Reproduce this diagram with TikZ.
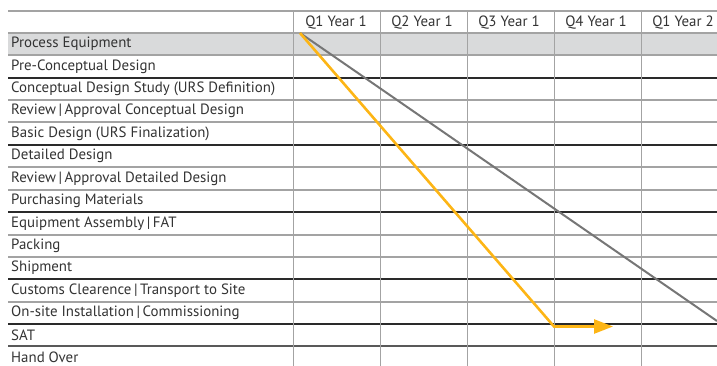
\documentclass[tikz,border=0pt]{standalone}
\usepackage{fontspec}
\setmainfont{PT Sans}
\usetikzlibrary{arrows.meta}
\definecolor{gridgrey}{HTML}{A3A3A3}
\definecolor{griddark}{HTML}{2A2A2A}
\definecolor{rowfill}{HTML}{D9DADB}
\definecolor{txtgrey}{HTML}{333333}
\definecolor{diaggrey}{HTML}{767676}
\definecolor{ayellow}{HTML}{FDB515}
\tikzset{
  rowlabel/.style={anchor=west, inner sep=0pt, font=\fontsize{14.9}{16}\selectfont, text=txtgrey},
  headlabel/.style={anchor=center, inner sep=0pt, font=\fontsize{14.9}{16}\selectfont, text=txtgrey},
  gridline/.style={draw=gridgrey, line width=1.1pt},
  darkline/.style={draw=griddark, line width=1.1pt},
  greyarrow/.style={draw=diaggrey, line width=2pt},
  yellowarrow/.style={draw=ayellow, line width=2.6pt, line join=miter},
}
\begin{document}
\begin{tikzpicture}[x=1pt,y=-1pt]
\useasboundingbox (0,0) rectangle (717,366);
% grey row
\fill[rowfill] (8,33) rectangle (717,55);
% horizontal lines
\foreach \yy in {11,33,55,100,122,167,190,235,257,302}
  \draw[gridline] (8,\yy) -- (717,\yy);
\foreach \yy in {78,145,212,279,324}
  \draw[darkline] (8,\yy) -- (717,\yy);
\draw[draw=black!65, line width=1.1pt] (8,346) -- (717,346);
% vertical lines
\foreach \xx in {293.5,380.5,467.5,554.5,641.5}
  \draw[gridline] (\xx,11) -- (\xx,366);
% headers
\node[headlabel] (h1) at (336,22.5) {Q1 Year 1};
\node[headlabel] (h2) at (422,22.5) {Q2 Year 1};
\node[headlabel] (h3) at (509,22.5) {Q3 Year 1};
\node[headlabel] (h4) at (596,22.5) {Q4 Year 1};
\node[headlabel] (h5) at (683,22.5) {Q1 Year 2};
% row labels
\node[rowlabel] (r1) at (11,44) {Process Equipment};
\node[rowlabel] (r2) at (11,66.5) {Pre-Conceptual Design};
\node[rowlabel] (r3) at (11,89) {Conceptual Design Study (URS Definition)};
\node[rowlabel] (r4) at (11,111) {Review\,|\,Approval Conceptual Design};
\node[rowlabel] (r5) at (11,133.5) {Basic Design (URS Finalization)};
\node[rowlabel] (r6) at (11,156) {Detailed Design};
\node[rowlabel] (r7) at (11,178.5) {Review\,|\,Approval Detailed Design};
\node[rowlabel] (r8) at (11,201) {Purchasing Materials};
\node[rowlabel] (r9) at (11,223.5) {Equipment Assembly\,|\,FAT};
\node[rowlabel] (r10) at (11,246) {Packing};
\node[rowlabel] (r11) at (11,268) {Shipment};
\node[rowlabel] (r12) at (11,290.5) {Customs Clearence\,|\,Transport to Site};
\node[rowlabel] (r13) at (11,313) {On-site Installation\,|\,Commissioning};
\node[rowlabel] (r14) at (11,335) {SAT};
\node[rowlabel] (r15) at (11,357) {Hand Over};
% diagonal connectors
\coordinate (start) at (300,33);
\coordinate (gend) at (717,321);
\coordinate (corner) at (554,326.5);
\coordinate (yend) at (613,326.5);
\draw[greyarrow] (start) -- (gend);
\draw[yellowarrow, -{Triangle[length=19pt,width=14pt]}] (start) -- (corner) -- (yend);
\end{tikzpicture}
\end{document}
